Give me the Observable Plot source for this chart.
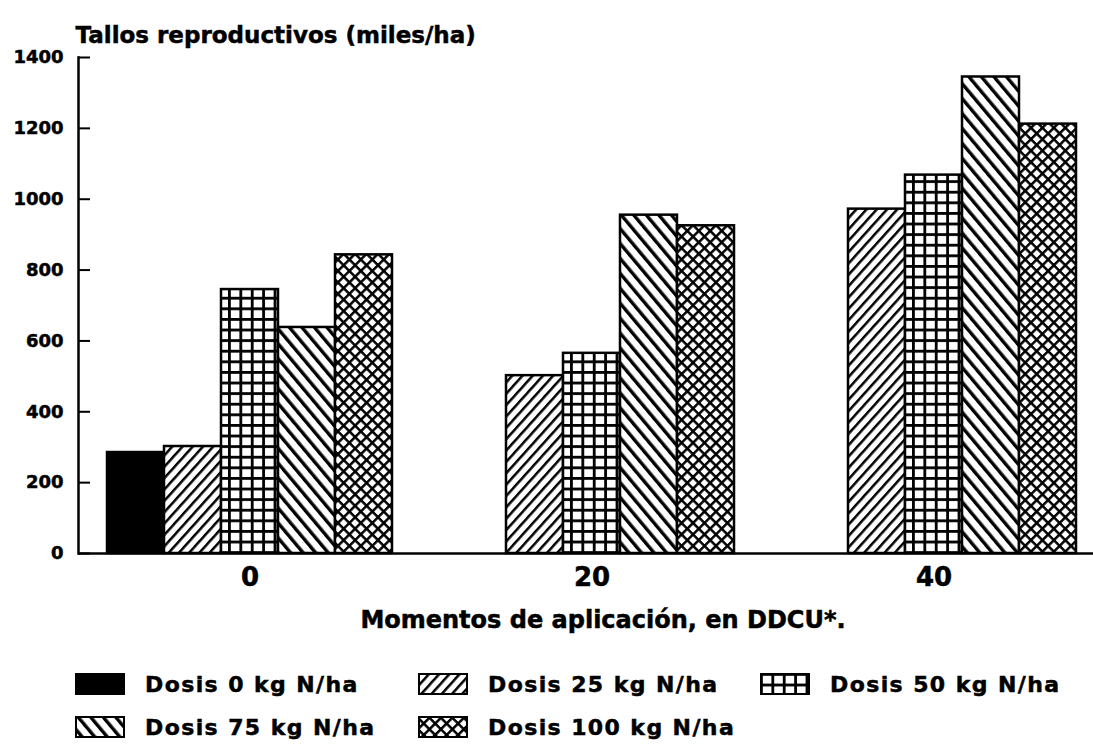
<!DOCTYPE html>
<html>
<head>
<meta charset="utf-8">
<script src="https://cdn.jsdelivr.net/npm/d3@7"></script>
<script src="https://cdn.jsdelivr.net/npm/@observablehq/plot@0.6"></script>
<style>
  html, body { margin: 0; padding: 0; background: #fff; }
  #wrap { position: relative; width: 1093px; height: 744px; overflow: hidden; background: #fff; }
  #chart { position: absolute; left: 0; top: 0; }
  #chart svg text { paint-order: stroke; stroke: #000; stroke-width: 0.5px; }
  #legend { position: absolute; left: 75px; top: 674px; display: grid;
    grid-template-columns: 343px 342px auto; row-gap: 23px;
    font-family: "DejaVu Sans", sans-serif; font-weight: bold; font-size: 22px; color: #000; }
  .item { display: flex; align-items: center; height: 20px; white-space: nowrap; }
  .item svg { margin-right: 20px; flex: none; }
  .item span { letter-spacing: 1.4px; -webkit-text-stroke: 0.5px #000; }
</style>
</head>
<body>
<svg width="0" height="0" style="position:absolute">
  <defs>
    <pattern id="p25" patternUnits="userSpaceOnUse" width="7.6" height="7.6" patternTransform="rotate(42)">
      <rect width="7.6" height="7.6" fill="#fff"/>
      <rect x="0" y="0" width="2.5" height="7.6" fill="#000"/>
    </pattern>
    <pattern id="p50" patternUnits="userSpaceOnUse" width="11.4" height="10.6">
      <rect width="11.4" height="10.6" fill="#fff"/>
      <rect x="0" y="0" width="2.8" height="10.6" fill="#000"/>
      <rect x="0" y="0" width="11.4" height="2.8" fill="#000"/>
    </pattern>
    <pattern id="p75" patternUnits="userSpaceOnUse" width="9.6" height="9.6" patternTransform="rotate(-40)">
      <rect width="9.6" height="9.6" fill="#fff"/>
      <rect x="0" y="0" width="3.4" height="9.6" fill="#000"/>
    </pattern>
    <pattern id="p100" patternUnits="userSpaceOnUse" width="8.1" height="8.1" patternTransform="rotate(45)">
      <rect width="8.1" height="8.1" fill="#fff"/>
      <rect x="0" y="0" width="2.5" height="8.1" fill="#000"/>
      <rect x="0" y="0" width="8.1" height="2.5" fill="#000"/>
    </pattern>
  </defs>
</svg>
<div id="wrap">
  <div id="chart"></div>
  <div id="legend"></div>
</div>
<script>
// ---- data ----
const moments = ["0", "20", "40"];
const doses = ["0", "25", "50", "75", "100"];
const doseLabels = ["Dosis 0 kg N/ha", "Dosis 25 kg N/ha", "Dosis 50 kg N/ha", "Dosis 75 kg N/ha", "Dosis 100 kg N/ha"];
const values0 = [285, 302, 745, 638, 843];
const values20 = [null, 502, 565, 955, 925];
const values40 = [null, 972, 1068, 1345, 1212];
const yTicks = [0, 200, 400, 600, 800, 1000, 1200, 1400];
const yTitle = "Tallos reproductivos (miles/ha)";
const xTitle = "Momentos de aplicación, en DDCU*.";
const doseFills = ["#000", "url(#p25)", "url(#p50)", "url(#p75)", "url(#p100)"];

// ---- table ----
const valuesByMoment = [values0, values20, values40];
const rows = [];
moments.forEach((m, i) => {
  doses.forEach((d, j) => {
    const v = valuesByMoment[i][j];
    if (v != null) rows.push({moment: m, dose: d, key: `${m}|${d}`, value: v});
  });
});
const slotDomain = moments.flatMap((m, i) => [...(i ? [`gap${i}`] : []), ...doses.map(d => `${m}|${d}`)]);
const middleKeys = moments.map(m => `${m}|${doses[2]}`);

const chart = Plot.plot({
  width: 1093,
  height: 650,
  marginLeft: 78,
  marginRight: 0,
  marginTop: 57,
  marginBottom: 97,
  style: {fontFamily: "DejaVu Sans, sans-serif", fontWeight: "bold", background: "#fff", color: "#000", overflow: "visible"},
  x: {type: "band", domain: slotDomain, padding: 0, insetLeft: 26, insetRight: 15, axis: null},
  y: {domain: [0, 1400], axis: null},
  color: {type: "ordinal", domain: doses, range: doseFills},
  marks: [
    Plot.barY(rows, {x: "key", y: "value", fill: "dose", stroke: "#000", strokeWidth: 2.5}),
    Plot.ruleY([0], {stroke: "#000", strokeWidth: 2.5}),
    Plot.ruleY(yTicks, {stroke: "#000", strokeWidth: 2, insetRight: 1015 - 12}),
    Plot.frame({anchor: "left", stroke: "#000", strokeWidth: 2.5}),
    Plot.axisY(yTicks, {tickSize: 0, tickPadding: 15, fontSize: 18, fontWeight: "bold", label: null, tickFormat: d => String(d)}),
    Plot.axisX(middleKeys, {tickSize: 0, tickPadding: 14, fontSize: 26, fontWeight: "bold", label: null, tickFormat: k => k.split("|")[0]}),
    Plot.text([xTitle], {frameAnchor: "bottom", dx: 17, dy: 74, fontSize: 24, fontWeight: "bold"}),
    Plot.text([yTitle], {frameAnchor: "top-left", dx: -3, dy: -31, textAnchor: "start", fontSize: 23, fontWeight: "bold"})
  ]
});
document.getElementById("chart").appendChild(chart);

// ---- legend ----
const legend = d3.select("#legend");
doseLabels.forEach((label, i) => {
  const item = legend.append("div").attr("class", "item");
  const sw = item.append("svg").attr("width", 50).attr("height", 22);
  sw.append("rect").attr("x", 1).attr("y", 1).attr("width", 48).attr("height", 20)
    .attr("fill", doseFills[i]).attr("stroke", "#000").attr("stroke-width", 2);
  item.append("span").text(label);
});
</script>
</body>
</html>
